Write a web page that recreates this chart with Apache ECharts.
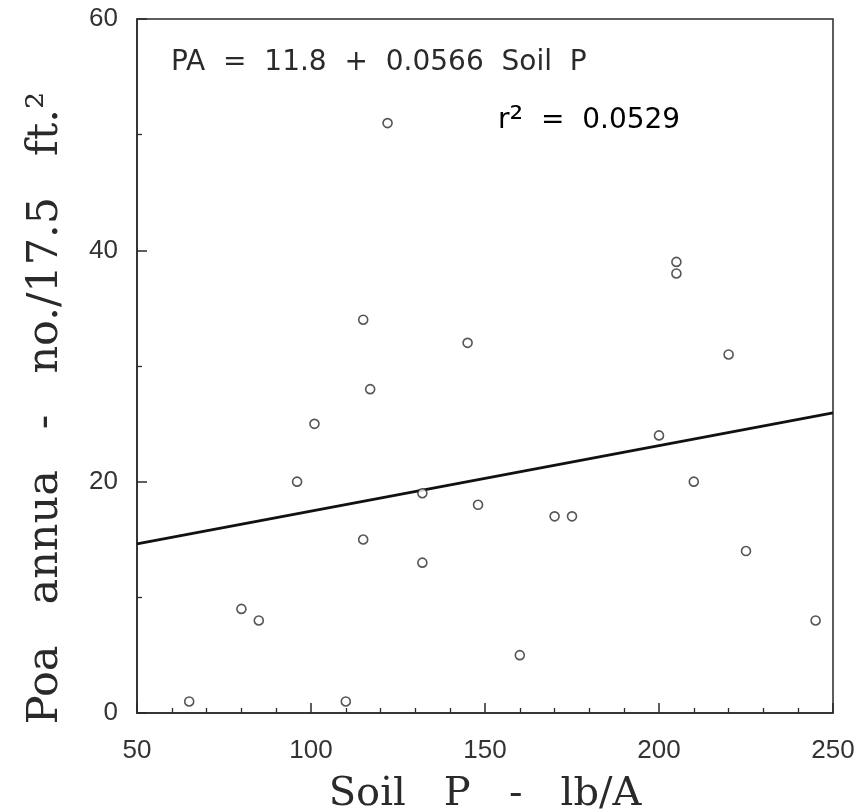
<!DOCTYPE html>
<html>
<head>
<meta charset="utf-8">
<script src="https://cdn.jsdelivr.net/npm/echarts@6/dist/echarts.min.js"></script>
<style>html,body{margin:0;padding:0;background:#fff}#c{width:860px;height:812px}</style>
</head>
<body>
<div id="c"></div>
<script>
// Data
var soilP   = [65, 80, 85, 96, 101, 110, 115, 115, 117, 122, 132, 132, 145, 148, 160, 170, 175, 200, 205, 205, 210, 220, 225, 245];
var poa     = [1, 9, 8, 20, 25, 1, 34, 15, 28, 51, 19, 13, 32, 18, 5, 17, 17, 24, 39, 38, 20, 31, 14, 8];
var fitX    = [50, 250];
var fitY    = [14.63, 25.95];
var xTicks  = [50, 100, 150, 200, 250];
var yTicks  = [0, 20, 40, 60];
var eqText  = 'PA  =  11.8  +  0.0566  Soil  P';
var r2Value = '0.0529';

var points = soilP.map(function (x, i) { return [x, poa[i]]; });
var fitLine = fitX.map(function (x, i) { return [x, fitY[i]]; });

var chart = echarts.init(document.getElementById('c'), null, {renderer: 'canvas'});
var sans = '"Liberation Sans", Arial, sans-serif';
var eqFont = '"DejaVu Sans", sans-serif';
var serif = '"DejaVu Serif", serif';
var ink = '#2a2a2a';

chart.setOption({
  animation: false,
  backgroundColor: '#fff',
  grid: {left: 137, right: 27, top: 19, bottom: 99, show: true, borderColor: ink, borderWidth: 1.5,
         containLabel: false, outerBoundsMode: 'none'},
  xAxis: {
    type: 'value', min: xTicks[0], max: xTicks[xTicks.length - 1], interval: 50,
    axisLine: {show: true, lineStyle: {color: ink, width: 1.5}},
    axisTick: {show: true, inside: true, length: 10, lineStyle: {color: ink, width: 1.5}},
    minorTick: {show: true, splitNumber: 5, length: 5, lineStyle: {color: ink, width: 1.3}},
    splitLine: {show: false},
    axisLabel: {color: '#333', fontFamily: sans, fontSize: 26, margin: 25},
    name: 'Soil   P   -   lb/A', nameLocation: 'middle', nameGap: 62,
    nameTextStyle: {fontFamily: serif, fontSize: 40, color: ink}
  },
  yAxis: {
    type: 'value', min: yTicks[0], max: yTicks[yTicks.length - 1], interval: 20,
    axisLine: {show: true, lineStyle: {color: ink, width: 1.5}},
    axisTick: {show: true, inside: true, length: 10, lineStyle: {color: ink, width: 1.5}},
    minorTick: {show: true, splitNumber: 2, length: 5, lineStyle: {color: ink, width: 1.3}},
    splitLine: {show: false},
    axisLabel: {color: '#333', fontFamily: sans, fontSize: 26, margin: 19}
  },
  graphic: [
    {type: 'text', left: 171, top: 49, style: {text: eqText, font: '28px ' + eqFont, fill: ink}},
    {type: 'text', left: 498, top: 104, style: {
      text: '{a|r}{s|²}{a|  =  ' + r2Value + '}',
      rich: {a: {fontFamily: eqFont, fontSize: 28, color: ink}, s: {fontFamily: eqFont, fontSize: 34, color: ink}}
    }},
    {type: 'text', x: 46, y: 408, rotation: Math.PI / 2, style: {
      text: 'Poa   annua   -   no./17.5   ft.²', font: '43px ' + serif, fill: ink,
      align: 'center', verticalAlign: 'middle'
    }}
  ],
  series: [
    {type: 'line', data: fitLine, symbol: 'none', lineStyle: {color: '#111', width: 2.8}, z: 2},
    {type: 'scatter', data: points, symbol: 'circle', symbolSize: 9,
     itemStyle: {color: '#fff', borderColor: ink, borderWidth: 1.6}, z: 3}
  ]
});
</script>
</body>
</html>
